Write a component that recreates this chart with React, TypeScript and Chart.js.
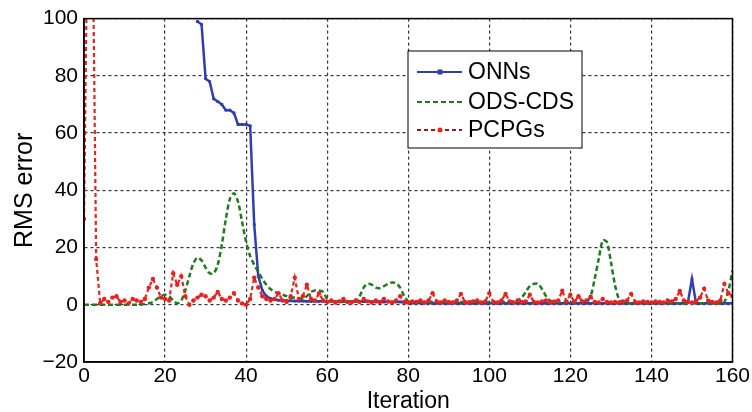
import React, { useEffect, useRef } from "react";
import { Chart, registerables } from "chart.js";

Chart.register(...registerables);

const iterations: number[] = Array.from({ length: 161 }, (_, i) => i);

const xTicks = [0, 20, 40, 60, 80, 100, 120, 140, 160];
const yTicks = [-20, 0, 20, 40, 60, 80, 100];

const seriesNames = ["ONNs", "ODS-CDS", "PCPGs"];

// ONNs (starts at iteration 28)
const onns: (number | null)[] = [
  null, null, null, null, null, null, null, null, null, null,
  null, null, null, null, null, null, null, null, null, null,
  null, null, null, null, null, null, null, null, 99, 98,
  79, 78, 72, 71, 70, 68, 68, 67, 63, 63,
  63, 62.5, 28, 10, 5, 3, 2.2, 1.8, 1.6, 1.5,
  1.4, 1.4, 1.3, 1.3, 1.3, 1.2, 1.2, 1.2, 1.2, 1.2,
  1.2, 1.2, 1.1, 1.1, 1.1, 1.1, 1.1, 1.1, 1.1, 1.1,
  1.1, 1.1, 1.0, 1.0, 1.0, 1.0, 1.0, 1.0, 1.0, 0.9,
  0.7, 0.6, 0.6, 0.6, 0.6, 0.6, 0.5, 0.5, 0.5, 0.5,
  0.5, 0.5, 0.5, 0.5, 0.5, 0.5, 0.5, 0.5, 0.5, 0.5,
  0.5, 0.5, 0.5, 0.5, 0.5, 0.5, 0.5, 0.5, 0.5, 0.5,
  0.5, 0.5, 0.5, 0.5, 0.5, 0.5, 0.5, 0.5, 0.5, 0.5,
  0.5, 0.5, 0.5, 0.5, 0.5, 0.5, 0.5, 0.5, 0.5, 0.5,
  0.5, 0.5, 0.5, 0.5, 0.5, 0.5, 0.5, 0.5, 0.5, 0.5,
  0.5, 0.5, 0.5, 0.5, 0.5, 0.5, 0.5, 0.5, 0.5, 0.8,
  9, 0.6, 0.5, 0.5, 0.5, 0.5, 0.5, 0.5, 0.5, 0.5,
  0.5,
];

const odsCds: number[] = [
  0, 0, 0, 0, 0, 0, 0, 0, 0, 0,
  0, 0, 0, 0, 0, 0.3, 0.5, 1, 2, 3,
  3.5, 3, 1.5, 0.5, 1.5, 5, 10, 14.5, 16.5, 15.5,
  13, 11, 11, 14, 21, 30, 37, 39, 36, 29,
  22, 17, 14, 11.5, 9, 7, 5.5, 4.5, 4, 3.5,
  3, 2.5, 2.5, 2.2, 2, 3, 4.5, 5, 5, 4.5,
  2, 1.5, 1.2, 1, 1, 1, 1, 1.2, 3, 6,
  7.3, 7, 6, 5.8, 6.5, 7.3, 7.8, 7.5, 6, 3,
  1.2, 1, 1, 0.9, 1, 1.1, 1, 0.9, 1, 1,
  1, 1, 0.9, 1, 1, 1.1, 1, 0.9, 1, 1,
  1, 1, 0.9, 1, 1, 1.2, 1.2, 1.5, 2.5, 4.5,
  6.5, 7.3, 7.3, 5.5, 3, 1.5, 1, 1, 1, 1,
  1, 1, 1, 1, 1, 3, 9, 16, 22.5, 22,
  15, 7, 2, 0.8, 0.5, 0.5, 0.5, 0.5, 0.5, 0.5,
  0.5, 0.5, 0.5, 0.5, 0.5, 0.5, 0.5, 0.5, 0.5, 0.5,
  0.5, 0.5, 0.5, 0.5, 0.5, 0.5, 0.5, 0.5, 1, 5,
  12,
];

const pcpgs: number[] = [
  30, 150, 150, 16, 0.5, 2, 1, 2.5, 3, 1,
  1.5, 0.5, 2, 1.5, 1, 2, 6, 9, 6, 2.5,
  2, 1.5, 11, 7, 10, 3, 0, 1.5, 2.5, 3.5,
  3, 1.5, 2.5, 4.5, 2, 1.5, 2.5, 4, 1.5, 0.5,
  0, 2, 9.5, 6, 3, 2, 1.5, 2, 4, 1.5,
  1, 3, 9.5, 2, 3, 7, 2, 1.5, 4, 1.5,
  1, 1.5, 0.8, 1.2, 2, 1, 0.8, 1.5, 1, 2,
  1.2, 0.8, 1.5, 1, 2, 1.2, 0.8, 1.5, 3, 1,
  0.8, 1.2, 1, 1.5, 0.8, 1.5, 4, 1.2, 0.8, 1.5,
  1, 0.8, 1.5, 3.8, 1, 0.8, 1.2, 1.5, 0.8, 1.2,
  4, 1, 0.8, 1.5, 3.8, 1.2, 0.8, 1.5, 1, 1.2,
  3.5, 1, 0.8, 1.2, 1.5, 0.8, 1.2, 1.5, 4.9, 1.2,
  3.5, 1, 3, 1.2, 1.5, 2.8, 1, 0.8, 2, 1,
  0.8, 1, 0.8, 1.2, 1.5, 3.8, 1, 0.8, 1.2, 1,
  0.8, 1.2, 1, 0.8, 1.5, 1.2, 2, 4.8, 1.5, 1,
  0.8, 1.2, 2.5, 5.6, 1.5, 1, 0.8, 1.5, 7.3, 4,
  3,
];

const BLUE = "#2f3fae";
const GREEN = "#1f7a22";
const RED = "#e8221e";
const DARKRED = "#8e1a1a";
const FONT = "'Liberation Sans', Arial, sans-serif";

const toPoints = (vals: (number | null)[]) =>
  iterations.map((x, i) => ({ x, y: vals[i] }));

const framePlugin = {
  id: "frameAndLegend",
  afterDraw(chart: any) {
    const { ctx, chartArea } = chart;
    ctx.save();
    ctx.strokeStyle = "#000";
    ctx.lineWidth = 1.5;
    ctx.setLineDash([]);
    ctx.strokeRect(
      chartArea.left,
      chartArea.top,
      chartArea.right - chartArea.left,
      chartArea.bottom - chartArea.top
    );

    // legend box
    const bx = 408, by = 51, bw = 174, bh = 97;
    ctx.fillStyle = "#fff";
    ctx.fillRect(bx, by, bw, bh);
    ctx.lineWidth = 1;
    ctx.strokeRect(bx, by, bw, bh);

    const rows = [
      { y: 72, color: BLUE, dash: [] as number[], marker: "rect", mcolor: BLUE },
      { y: 102, color: GREEN, dash: [5, 3], marker: "none", mcolor: GREEN },
      { y: 130, color: DARKRED, dash: [4, 3], marker: "circle", mcolor: RED },
    ];
    rows.forEach((r, i) => {
      ctx.beginPath();
      ctx.strokeStyle = r.color;
      ctx.lineWidth = 2;
      ctx.setLineDash(r.dash);
      ctx.moveTo(417, r.y);
      ctx.lineTo(462, r.y);
      ctx.stroke();
      ctx.setLineDash([]);
      ctx.fillStyle = r.mcolor;
      if (r.marker === "rect") ctx.fillRect(437.5, r.y - 2.5, 5, 5);
      if (r.marker === "circle") {
        ctx.beginPath();
        ctx.arc(440, r.y, 2.5, 0, Math.PI * 2);
        ctx.fill();
      }
      ctx.fillStyle = "#000";
      ctx.font = `23px ${FONT}`;
      ctx.textAlign = "left";
      ctx.textBaseline = "middle";
      ctx.fillText(seriesNames[i], 468, r.y + 1);
    });
    ctx.restore();
  },
};

export default function App() {
  const ref = useRef<HTMLCanvasElement>(null);
  useEffect(() => {
    if (!ref.current) return;
    Chart.defaults.font.family = FONT;
    const chart = new Chart(ref.current, {
      type: "line",
      data: {
        datasets: [
          {
            label: seriesNames[0],
            data: toPoints(onns),
            borderColor: BLUE,
            backgroundColor: BLUE,
            borderWidth: 2.5,
            pointStyle: "rect",
            pointRadius: 2,
            pointBorderWidth: 0,
            spanGaps: false,
            order: 2,
          },
          {
            label: seriesNames[1],
            data: toPoints(odsCds),
            borderColor: GREEN,
            backgroundColor: GREEN,
            borderWidth: 2.5,
            borderDash: [5, 3],
            pointRadius: 0,
            tension: 0.3,
            order: 1,
          },
          {
            label: seriesNames[2],
            data: toPoints(pcpgs),
            borderColor: RED,
            backgroundColor: RED,
            borderWidth: 2.2,
            borderDash: [4, 3],
            pointStyle: "circle",
            pointRadius: 2.2,
            pointBorderWidth: 0,
            order: 0,
          },
        ],
      },
      options: {
        animation: false,
        responsive: false,
        maintainAspectRatio: false,
        layout: { padding: { top: 18, right: 17, left: 0, bottom: 0 } },
        plugins: { legend: { display: false }, tooltip: { enabled: false } },
        scales: {
          x: {
            type: "linear",
            min: 0,
            max: 160,
            afterFit: (s: any) => {
              s.height = 50;
            },
            afterBuildTicks: (s: any) => {
              s.ticks = xTicks.map((v) => ({ value: v }));
            },
            ticks: {
              color: "#000",
              font: { size: 21 },
              padding: 2,
              maxRotation: 0,
              autoSkip: false,
            },
            grid: { color: "#333", lineWidth: 1.2, drawTicks: false },
            border: { display: true, color: "#000", width: 1.5, dash: [3, 3] },
            title: {
              display: true,
              text: "Iteration",
              color: "#000",
              font: { size: 23, lineHeight: 1 },
              padding: { top: 0, bottom: -1 },
            },
          },
          y: {
            type: "linear",
            min: -20,
            max: 100,
            afterFit: (s: any) => {
              s.width = 84;
            },
            afterBuildTicks: (s: any) => {
              s.ticks = yTicks.map((v) => ({ value: v }));
            },
            ticks: {
              color: "#000",
              font: { size: 21 },
              padding: 6,
              autoSkip: false,
              callback: (v: any) =>
                Number(v) < 0 ? "\u2212" + Math.abs(Number(v)) : String(v),
            },
            grid: { color: "#333", lineWidth: 1.2, drawTicks: false },
            border: { display: true, color: "#000", width: 1.5, dash: [3, 3] },
            title: {
              display: true,
              text: "RMS error",
              color: "#000",
              font: { size: 25, lineHeight: 1.2 },
              padding: { top: 10, bottom: 0 },
            },
          },
        },
      },
      plugins: [framePlugin],
    });
    return () => chart.destroy();
  }, []);

  return (
    <div style={{ position: "fixed", left: 0, top: 0, width: 752, height: 412, background: "#fff" }}>
      <canvas ref={ref} width={752} height={412} style={{ width: 752, height: 412 }} />
    </div>
  );
}
